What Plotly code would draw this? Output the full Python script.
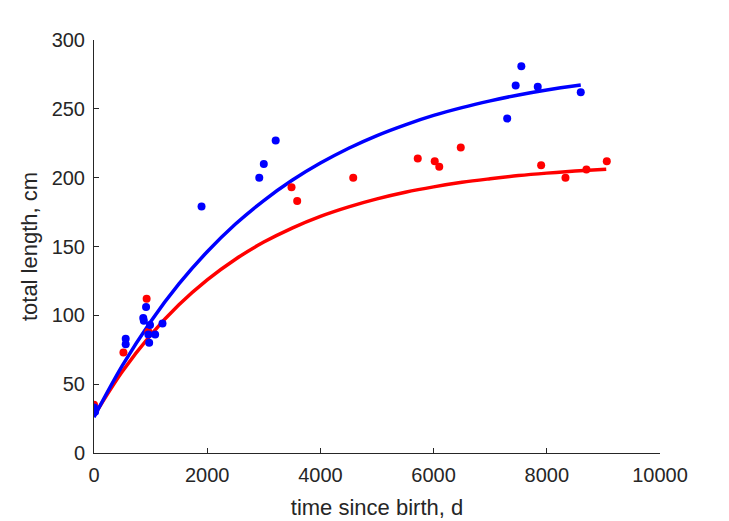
import plotly.graph_objects as go

# scatter data: time since birth (d), total length (cm)
blue_t = [0, 20, 560, 560, 870, 880, 920, 990, 960, 1080, 975, 1210, 1900, 2920, 3000, 3210, 7300, 7450, 7550, 7840, 8600]
blue_len = [33, 30, 83, 79, 98, 96, 106, 93, 86, 86, 80, 94, 179, 200, 210, 227, 243, 267, 281, 266, 262]

red_t = [0, 520, 930, 960, 3490, 3590, 4580, 5720, 6020, 6100, 6480, 7900, 8330, 8700, 9060]
red_len = [35, 73, 112, 88, 193, 183, 200, 214, 212, 208, 222, 209, 200, 206, 212]

# fitted growth curves
blue_fit_t = [0, 500, 1000, 1500, 2000, 2500, 3000, 3500, 4000, 4500, 5000, 5500, 6000, 6500, 7000, 7500, 8000, 8600]
blue_fit_len = [26, 63.4, 95.4, 122.8, 146.2, 166.3, 183.4, 198.1, 210.6, 221.4, 230.6, 238.4, 245.2, 250.9, 255.8, 260.1, 263.7, 267.3]

red_fit_t = [0, 500, 1000, 1500, 2000, 2500, 3000, 3500, 4000, 4500, 5000, 5500, 6000, 6500, 7000, 7500, 8000, 8500, 9050]
red_fit_len = [27, 59.2, 85.7, 107.7, 125.8, 140.8, 153.2, 163.4, 171.9, 178.8, 184.6, 189.4, 193.3, 196.6, 199.2, 201.5, 203.3, 204.8, 206.2]

x_ticks = [0, 2000, 4000, 6000, 8000, 10000]
y_ticks = [0, 50, 100, 150, 200, 250, 300]

BLUE = "#0000FF"
RED = "#FF0000"
AX = "#262626"
FONT = "Liberation Sans, Arial, sans-serif"

fig = go.Figure()
fig.add_trace(go.Scatter(x=red_fit_t, y=red_fit_len, mode="lines", line=dict(color=RED, width=3.5, shape="spline"), hoverinfo="skip"))
fig.add_trace(go.Scatter(x=blue_fit_t, y=blue_fit_len, mode="lines", line=dict(color=BLUE, width=3.5, shape="spline"), hoverinfo="skip"))
fig.add_trace(go.Scatter(x=red_t, y=red_len, mode="markers", marker=dict(color=RED, size=8, line=dict(width=0))))
fig.add_trace(go.Scatter(x=blue_t, y=blue_len, mode="markers", marker=dict(color=BLUE, size=8, line=dict(width=0))))

axis_common = dict(
    showgrid=False, zeroline=False, showline=True, linecolor=AX, linewidth=1,
    ticks="inside", ticklen=5, tickcolor=AX, tickwidth=1,
    tickfont=dict(family=FONT, size=20, color=AX),
    ticklabelstandoff=4,
)

fig.update_layout(
    width=729, height=521,
    margin=dict(l=86, r=77, t=32, b=76, autoexpand=False),
    paper_bgcolor="white", plot_bgcolor="white",
    showlegend=False,
    xaxis=dict(range=[0, 10000], tickvals=x_ticks, ticktext=[str(v) for v in x_ticks],
               title=dict(text="time since birth, d", font=dict(family=FONT, size=22, color=AX), standoff=14),
               **axis_common),
    yaxis=dict(range=[0, 300], tickvals=y_ticks, ticktext=[str(v) for v in y_ticks],
               title=dict(text="total length, cm", font=dict(family=FONT, size=22, color=AX), standoff=7),
               **axis_common),
)

fig.write_html("out.html")
